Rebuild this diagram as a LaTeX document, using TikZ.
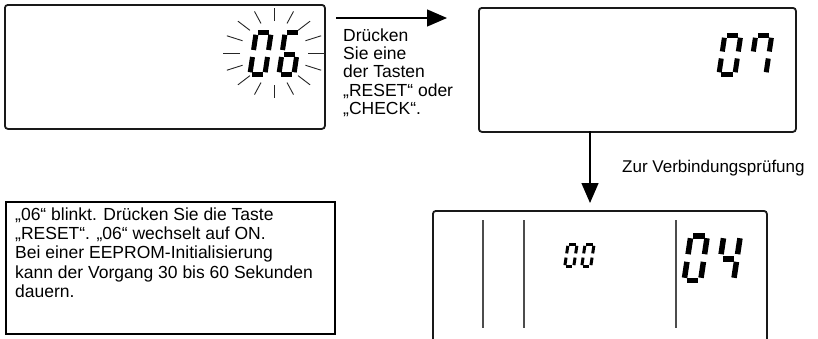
\documentclass[tikz,border=0pt]{standalone}
\usepackage{fontspec}
\setmainfont{Liberation Sans}
\usetikzlibrary{arrows.meta}
\newcommand\lcdsega{\draw (\lcdC+\lcdG,\lcdH-\lcdC) -- (\lcdW-\lcdC-\lcdG,\lcdH-\lcdC);}
\newcommand\lcdsegb{\draw (\lcdW-\lcdC,\lcdH-\lcdC-\lcdG) -- (\lcdW-\lcdC,\lcdH/2+\lcdM);}
\newcommand\lcdsegc{\draw (\lcdW-\lcdC,\lcdH/2-\lcdM) -- (\lcdW-\lcdC,\lcdC+\lcdG);}
\newcommand\lcdsegd{\draw (\lcdC+\lcdG,\lcdC) -- (\lcdW-\lcdC-\lcdG,\lcdC);}
\newcommand\lcdsege{\draw (\lcdC,\lcdC+\lcdG) -- (\lcdC,\lcdH/2-\lcdM);}
\newcommand\lcdsegf{\draw (\lcdC,\lcdH/2+\lcdM) -- (\lcdC,\lcdH-\lcdC-\lcdG);}
\newcommand\lcdsegg{\draw (\lcdC+\lcdG,\lcdH/2-\lcdM+\lcdC) -- (\lcdW-\lcdC-\lcdG,\lcdH/2-\lcdM+\lcdC);}
\newcommand\lcddigit[6]{%
  \begin{scope}[shift={(#1,#2)},x=1pt,y=1pt,xslant=0.15,line width=#5pt,line cap=butt]
    \def\lcdW{#3}\def\lcdH{#4}\pgfmathsetmacro\lcdC{#5/2}\pgfmathsetmacro\lcdG{#5*0.45}%
    \pgfmathsetmacro\lcdM{#5*0.7}%
    \foreach \s in {#6}{\csname lcdseg\s\endcsname}
  \end{scope}}
\begin{document}
\begin{tikzpicture}[x=1pt,y=-1pt,
  lcdbox/.style={draw=black!90, line width=1.8pt, rounded corners=3pt, inner sep=0pt, anchor=north west},
  notebox/.style={draw=black, line width=1.6pt, inner sep=0pt, anchor=north west},
  txt/.style={align=left, inner sep=0pt, anchor=north west},
  arr/.style={line width=1.3pt, -{Triangle[length=20pt,width=17pt]}},
  ray/.style={line width=0.9pt, black!85},
  divider/.style={line width=1.2pt, black!70}]
\useasboundingbox (0,0) rectangle (818,338);
\clip (0,0) rectangle (818,338);
\fill[white] (0,0) rectangle (818,338);

% boxes
\node[lcdbox, minimum width=320pt, minimum height=124pt] (b1) at (4,4) {};
\node[lcdbox, minimum width=317pt, minimum height=124pt] (b2) at (478,7) {};
\node[lcdbox, minimum width=334pt, minimum height=150pt] (b3) at (432,210) {};
\node[notebox, minimum width=329pt, minimum height=132pt] (b4) at (5,201) {};

% arrows
\coordinate (a1s) at (336,18);
\coordinate (a1e) at (447,18);
\draw[arr] (a1s) -- (a1e);
\coordinate (a2s) at (590,131);
\coordinate (a2e) at (590,203);
\draw[arr] (a2s) -- (a2e);

% texts
\node[txt, font=\fontsize{17.5}{18.3}\selectfont] (t1) at (343,28.5)
  {Drücken\\Sie eine\\der Tasten\\„RESET“ oder\\„CHECK“.};
\node[txt, font=\fontsize{17}{20}\selectfont] (t2) at (622,160) {Zur Verbindungsprüfung};
\node[txt, font=\fontsize{17.5}{19.3}\selectfont] (t3) at (15,207.5)
  {„06“ blinkt. Drücken Sie die Taste\\„RESET“. „06“ wechselt auf ON.\\Bei einer EEPROM-Initialisierung\\kann der Vorgang 30 bis 60 Sekunden\\dauern.};

% rays
\foreach \a in {0,22.5,...,337.5}
  \draw[ray] (274+34*cos \a, 53+32*sin \a) -- (274+51*cos \a, 53+45*sin \a);

% digits box 1
\lcddigit{247}{77}{20}{47}{5}{a,b,c,d,e,f}
\lcddigit{276}{77}{20}{47}{5}{a,f,g,e,d,c}
% digits box 2
\lcddigit{716}{77}{21}{44}{5}{a,b,c,d,e,f}
\lcddigit{747}{77}{21}{44}{5}{a,b,c,f}
% box 3
\draw[divider] (483,220) -- (483,328);
\draw[divider] (524,220) -- (524,328);
\draw[divider] (676,220) -- (676,328);
\lcddigit{563}{268}{12}{25}{3}{a,b,c,d,e,f}
\lcddigit{580}{268}{12}{25}{3}{a,b,c,d,e,f}
\lcddigit{681}{283}{22}{50}{5.5}{a,b,c,d,e,f}
\lcddigit{714}{283}{22}{50}{5.5}{f,b,g,c}
\end{tikzpicture}
\end{document}
